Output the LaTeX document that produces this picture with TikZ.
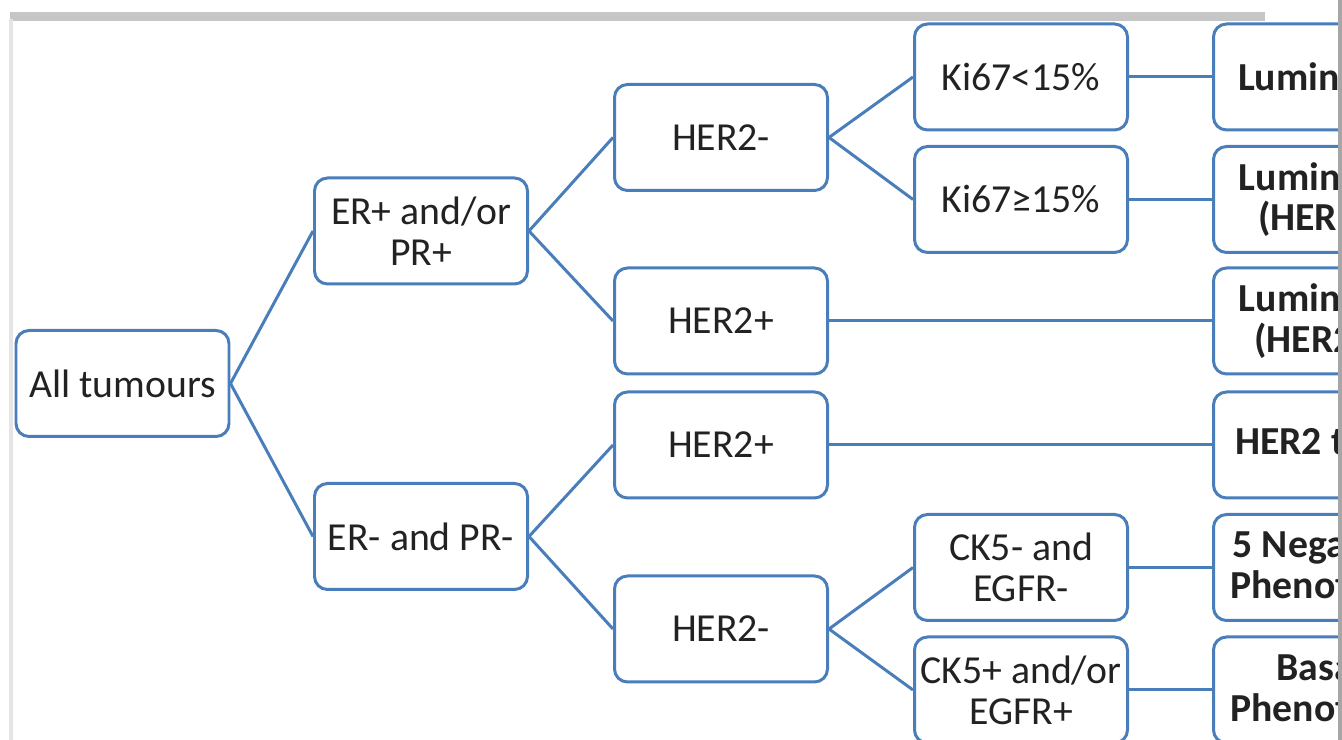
\documentclass[tikz,border=0pt]{standalone}
\usepackage{fontspec}
\setmainfont{Carlito}
\usepackage{tikz}

\definecolor{boxblue}{RGB}{74,126,187}
\definecolor{inkgray}{RGB}{34,34,34}

\tikzset{
	box/.style={draw=boxblue, line width=0.85pt, rounded corners=0.13cm, fill=white,
		minimum width=2.13cm, minimum height=1.06cm, align=center, inner sep=1pt,
		text=inkgray, font=\fontsize{11.3}{11.6}\selectfont},
	outbox/.style={box, font=\fontsize{11.3}{11.6}\selectfont\bfseries},
	link/.style={draw=boxblue, line width=0.85pt}
}

\begin{document}
\begin{tikzpicture}
	\useasboundingbox (0,0) rectangle (13.42,7.40);
	\clip (0,0) rectangle (13.42,7.40);
	
	%frame of the screenshot
	\draw[line width=2.5pt, gray!45] (0.10,7.235)--(12.65,7.235);
	\draw[line width=1.2pt, gray!20] (0.11,7.21)--(0.11,0);
	
	%first levels
	\node[box] (all)    at (1.225,3.565) {All tumours};
	\node[box] (erpos)  at (4.21,5.09)   {ER+ and/or\\PR+};
	\node[box] (erneg)  at (4.21,2.035)  {ER- and PR-};
	\node[box] (hnegA)  at (7.21,6.025)  {HER2-};
	\node[box] (hposA)  at (7.21,4.19)   {HER2+};
	\node[box] (hposB)  at (7.21,2.95)   {HER2+};
	\node[box] (hnegB)  at (7.21,1.11)   {HER2-};
	\node[box] (kilo)   at (10.21,6.63)  {Ki67<15\%};
	\node[box] (kihi)   at (10.21,5.405) {Ki67≥15\%};
	\node[box] (ckneg)  at (10.21,1.725) {CK5- and\\EGFR-};
	\node[box] (ckpos)  at (10.21,0.50)  {CK5+ and/or\\EGFR+};
	
	%subtypes (cut off at the right)
	\node[outbox] (luma)  at (13.20,6.63)  {Luminal A};
	\node[outbox] (lumbn) at (13.20,5.405) {Luminal B\\(HER2-)};
	\node[outbox] (lumbp) at (13.20,4.19)  {Luminal B\\(HER2+)};
	\node[outbox] (htype) at (13.20,2.95)  {HER2 type};
	\node[outbox] (fneg)  at (13.20,1.725) {5 Negative\\Phenotype};
	\node[outbox] (basal) at (13.20,0.50)  {Basal\\Phenotype};
	
	%connectors
	\draw[link] (all.east)--(erpos.west);
	\draw[link] (all.east)--(erneg.west);
	\draw[link] (erpos.east)--(hnegA.west);
	\draw[link] (erpos.east)--(hposA.west);
	\draw[link] (erneg.east)--(hposB.west);
	\draw[link] (erneg.east)--(hnegB.west);
	\draw[link] (hnegA.east)--(kilo.west);
	\draw[link] (hnegA.east)--(kihi.west);
	\draw[link] (hnegB.east)--(ckneg.west);
	\draw[link] (hnegB.east)--(ckpos.west);
	\draw[link] (kilo.east)--(luma.west);
	\draw[link] (kihi.east)--(lumbn.west);
	\draw[link] (hposA.east)--(lumbp.west);
	\draw[link] (hposB.east)--(htype.west);
	\draw[link] (ckneg.east)--(fneg.west);
	\draw[link] (ckpos.east)--(basal.west);
	
	%right edge of the screenshot
	\fill[gray!70] (13.38,0) rectangle (13.42,7.40);
\end{tikzpicture}
\end{document}
